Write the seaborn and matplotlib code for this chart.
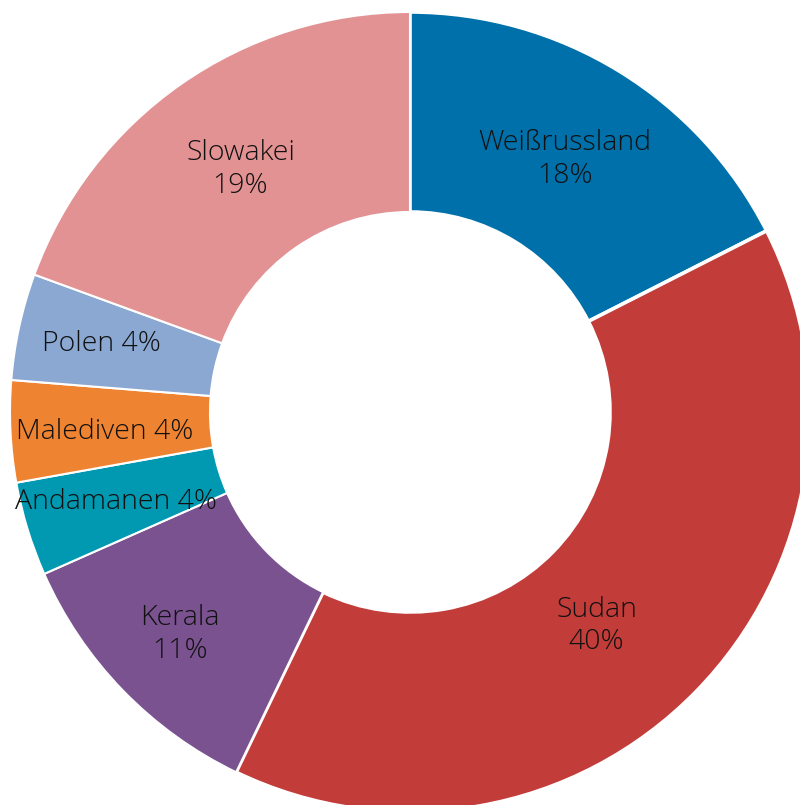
import numpy as np
import matplotlib
matplotlib.use("Agg")
import matplotlib.pyplot as plt
import seaborn as sns

sns.set_theme(style="white")
plt.rcParams['font.family'] = ['Open Sans', 'DejaVu Sans']

categories = ["Weißrussland", "Sudan", "Kerala", "Andamanen", "Malediven", "Polen", "Slowakei"]
values = [17.5, 39.6, 11.2, 3.8, 4.1, 4.3, 19.4]
colors = ["#0070AA", "#C23C39", "#7A5290", "#0099B1", "#EE8332", "#8AA8D2", "#E39294"]
two_line = [True, True, True, False, False, False, True]

# label placement (layout only): distance from centre as fraction of radius,
# and angular shift (degrees, clockwise positive) from the wedge middle
label_r = [0.74, 0.71, 0.80, 0.77, 0.765, 0.79, 0.74]
label_shift = [0, 4.5, 0, 0, -1.0, 0, 0]

fig = plt.figure(figsize=(8.0, 8.05), dpi=100)
# pie centre at (410, 412) px from top-left, radius 400 px
W, H = 800, 805
cx, cy, R = 410, 412, 400
ax = fig.add_axes([(cx - R) / W, (H - cy - R) / H, 2 * R / W, 2 * R / H])

wedges, _ = ax.pie(values, colors=colors, startangle=90, counterclock=False,
                   radius=1.0, wedgeprops=dict(width=0.5, edgecolor="white", linewidth=1.5))
for i in (0, 1):
    wedges[i].set_linewidth(2.6)

total = sum(values)
for w, name, v, tl, r, s in zip(wedges, categories, values, two_line, label_r, label_shift):
    ang = np.deg2rad((w.theta1 + w.theta2) / 2 - s)
    x, y = r * np.cos(ang), r * np.sin(ang)
    pct = f"{v / total * 100:.0f}%"
    label = f"{name}\n{pct}" if tl else f"{name} {pct}"
    ax.text(x, y, label, ha="center", va="center", fontsize=20.5, color="#111111",
            fontweight="light", linespacing=1.21)

ax.set_xlim(-1, 1)
ax.set_ylim(-1, 1)
ax.set_aspect("equal")
ax.axis("off")
fig.savefig("out.png", dpi=100)
